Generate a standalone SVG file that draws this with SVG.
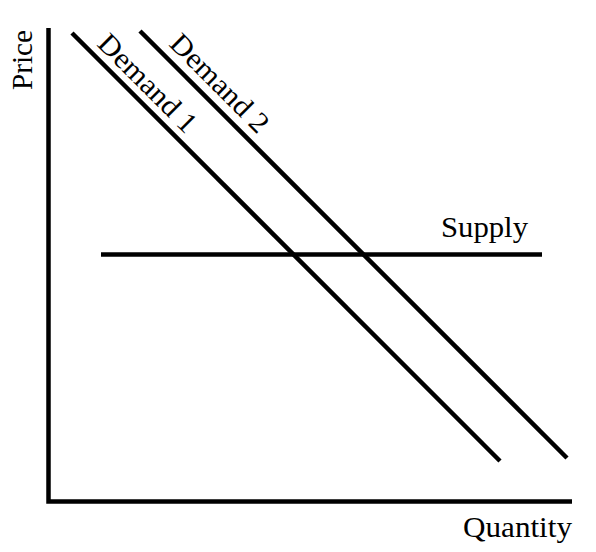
<svg xmlns="http://www.w3.org/2000/svg" width="596" height="552" viewBox="0 0 596 552">
<style>
.ln{stroke:#000;stroke-width:4.5;fill:none}
.lb{font-family:"Liberation Serif","Times New Roman",serif;font-size:29px;fill:#000}
</style>
<rect width="596" height="552" fill="#fff"/>
<g id="axes">
<path class="ln" d="M48.5,28 V501.5 H572" stroke-linejoin="miter"/>
<text class="lb" transform="translate(32,90) rotate(-90)" textLength="60" lengthAdjust="spacingAndGlyphs">Price</text>
<text class="lb" x="463" y="537" textLength="109" lengthAdjust="spacingAndGlyphs">Quantity</text>
</g>
<g id="connectors">
<line id="demand1-line" class="ln" x1="72" y1="33" x2="500" y2="461"/>
<line id="demand2-line" class="ln" x1="140" y1="31" x2="567" y2="458"/>
<line id="supply-line" class="ln" x1="101" y1="254.5" x2="542" y2="254.5"/>
</g>
<g id="demand1">
<text class="lb" transform="translate(96,45) rotate(45)" textLength="127" lengthAdjust="spacingAndGlyphs">Demand 1</text>
</g>
<g id="demand2">
<text class="lb" transform="translate(168,45) rotate(45)" textLength="127" lengthAdjust="spacingAndGlyphs">Demand 2</text>
</g>
<g id="supply">
<text class="lb" x="441" y="237" textLength="87" lengthAdjust="spacingAndGlyphs">Supply</text>
</g>
</svg>
